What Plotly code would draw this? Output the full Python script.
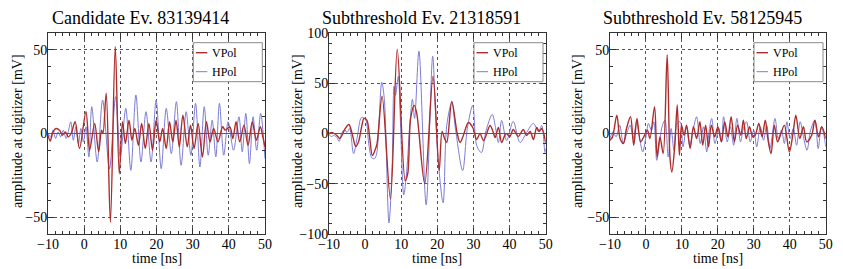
import plotly.graph_objects as go

# ---------------- data ----------------
titles = ["Candidate Ev. 83139414", "Subthreshold Ev. 21318591", "Subthreshold Ev. 58125945"]
legend_names = ["VPol", "HPol"]
x_label = "time [ns]"
y_label = "amplitude at digitizer [mV]"
x_ticks = [-10, 0, 10, 20, 30, 40, 50]
y_ticks_small = [-50, 0, 50]
y_ticks_big = [-100, -50, 0, 50, 100]

# (time [ns], amplitude [mV]) turning points of each waveform
vpol_1 = [(-10, -1), (-9.4, -4.5), (-8.6, 1), (-7.8, 3), (-6.8, 2), (-6.0, -1), (-5.2, 1), (-4.4, -2),
          (-3.6, 0), (-2.5, 7), (-1.3, -9), (0.5, 13), (1.5, -10), (2.9, 6), (4.0, -11), (4.8, 2),
          (5.2, 0), (6.1, 24), (7.25, -53), (8.6, 52), (9.7, -24), (10.6, 7), (11.4, -6), (12.4, 8),
          (13.2, -4), (14.0, 3), (15.0, -7), (15.9, 6), (16.9, -9), (17.9, 6), (18.9, -10), (19.9, 8),
          (20.9, -5), (21.7, 3), (22.7, -9), (23.6, 7), (24.5, -5), (25.4, 8), (26.3, -8), (27.3, 11),
          (28.5, -8), (29.4, 5), (30.4, -9), (31.5, 6), (32.7, -14), (33.8, 7), (34.8, -5), (35.8, 3),
          (37.0, -5), (38.3, 4), (39.0, 2), (40.3, 4), (41.1, -3), (42.0, 7), (43.0, -5), (44.2, 5),
          (45.3, -7), (46.5, 7), (47.6, -4), (48.7, 4), (49.4, -2), (50.0, -8)]
hpol_1 = [(-10, 0), (-9.3, -2), (-8.6, 2), (-7.9, -3), (-7.2, 1), (-6.5, -2), (-5.8, 2), (-5.0, -3),
          (-4.3, 2), (-3.7, 7), (-3.0, -4), (-2.3, 4), (-1.6, -6), (-0.9, 3), (-0.2, -5), (0.5, 4),
          (1.3, -14), (2.1, 16), (3.6, -17), (5.1, 20), (7.0, -21), (8.7, 22), (10.0, -14), (11.5, 15),
          (12.9, -22), (14.3, 23), (15.7, -17), (17.1, 13), (18.5, -17), (19.9, 20), (21.3, -21),
          (22.7, 15), (24.1, -12), (25.5, 19), (26.8, -19), (28.2, 13), (29.5, -13), (30.8, 18),
          (32.0, -20), (33.2, 16), (34.3, -13), (35.4, 8), (36.4, -14), (37.4, 18), (38.6, -13),
          (39.8, 7), (41.3, -10), (42.8, 10), (43.7, -11), (44.7, 12), (45.7, -18), (46.7, 10),
          (47.7, -10), (48.8, 12), (50.0, -15)]

vpol_2 = [(-10, 0), (-9.3, 1), (-8.6, 0), (-7.8, -2), (-7.0, -5), (-6.3, -1), (-5.5, 5), (-4.5, 9),
          (-3.6, 0), (-2.6, -13), (-1.8, -8), (-1.0, 6), (-0.3, 15), (0.5, 13), (1.3, -5), (2.0, -22),
          (2.7, -17), (3.3, -10), (4.7, 37), (7.0, -65), (8.9, 84), (11.1, -47), (11.8, -40), (12.6, 15),
          (13.6, 28), (14.3, 20), (16.5, -50), (18.8, 57), (20.5, -37), (21.3, 2), (22.0, -5), (22.6, -9),
          (24.0, 32), (25.5, 0), (26.3, -9), (27.1, -3), (28.6, 11), (29.8, 6), (30.9, -6), (31.8, 0),
          (32.8, -7), (34.6, 8), (35.4, 2), (36.0, -4), (36.9, 6), (37.8, -9), (39.0, 0), (40.1, -3),
          (41.0, 4), (42.4, -3), (43.8, 4), (44.7, -2), (45.7, 2), (46.6, -6), (47.5, 6), (48.2, 2),
          (48.9, 5), (50.0, -9)]
hpol_2 = [(-10, -1), (-9.3, -3), (-8.7, -2), (-7.8, -4), (-7.2, -8), (-6.5, 0), (-5.7, 4), (-5.0, 1),
          (-4.3, 5), (-3.2, -20), (-2.2, -4), (-1.0, 16), (0.1, 14), (1.0, -10), (1.8, -24), (2.6, -25),
          (3.2, -20), (4.6, 51), (5.3, 35), (6.6, -89), (7.5, -30), (8.0, 47), (8.4, 38), (9.2, 57),
          (9.7, 20), (10.7, -61), (11.5, -38), (12.4, 10), (13.1, 34), (13.7, 15), (14.9, 82),
          (16.9, -71), (18.7, 77), (19.5, 20), (20.3, -30), (21.6, -69), (22.6, 8), (24.0, 31),
          (25.0, 5), (27.0, -37), (28.3, 5), (29.8, 28), (30.9, -12), (32.2, -19), (33.5, 3), (35.2, 19),
          (36.0, 8), (36.9, -9), (37.8, 13), (39.2, -7), (41.0, 12), (42.9, -9), (44.7, 1), (46.6, 10),
          (48.0, 2), (48.9, 8), (49.8, -19), (50.0, -15)]

vpol_3 = [(-10, -4), (-9.3, -2), (-8.1, 11), (-7.2, -3), (-6.3, -6), (-5.4, 3), (-4.3, 10), (-3.4, -7),
          (-2.5, 9), (-1.5, -5), (-0.6, -2), (0.4, 2), (1.1, -3), (2.4, 16), (3.1, -14), (3.9, -2),
          (4.8, -12), (5.9, 47), (6.7, -15), (7.2, -23), (8.0, -8), (8.7, 17), (9.3, -13), (9.9, 5),
          (10.6, -1), (11.3, 5), (12.3, -9), (13.2, 4), (14.1, -3), (15.0, 7), (15.8, -7), (16.6, 5),
          (17.4, -8), (18.2, 5), (19.1, -2), (20.0, 4), (21.0, -5), (21.9, 7), (22.8, -2), (23.7, 10),
          (24.6, -5), (25.5, 5), (26.4, -1), (27.1, 8), (27.9, -3), (28.8, 4), (29.7, -2), (30.4, -1),
          (31.4, 6), (32.3, -2), (33.2, 8), (33.9, -3), (34.8, -12), (35.7, 5), (36.6, -5), (37.4, -1),
          (38.5, 5), (39.9, -11), (40.9, 0), (41.7, 11), (42.8, -3), (43.8, 4), (44.7, -5), (46.1, -1),
          (47.0, 8), (48.0, -2), (48.9, 4), (50.0, -3)]
hpol_3 = [(-10, -3), (-9.2, 1), (-8.3, -2), (-7.3, 5), (-6.3, -6), (-5.2, 1), (-4.4, 5), (-3.5, -3),
          (-2.6, 7), (-1.8, -2), (-0.9, -11), (0.0, -2), (0.7, 6), (1.5, 2), (2.2, 7), (3.0, -16),
          (3.9, -3), (4.6, 5), (5.3, 8), (6.2, -14), (7.0, 3), (7.8, -10), (8.6, 6), (9.5, 7),
          (10.3, -8), (11.3, 4), (12.2, -7), (13.2, 3), (14.1, 10), (15.1, -6), (16.0, 4), (16.9, -11),
          (17.6, 2), (18.3, 9), (19.2, -6), (20.3, 3), (21.0, -5), (21.6, 10), (22.6, -5), (23.5, 4),
          (24.4, -7), (25.3, 9), (26.3, -5), (27.1, 3), (28.0, 7), (29.0, -5), (30.0, 2), (30.8, -8),
          (31.8, 4), (32.7, -4), (33.6, 5), (34.5, -9), (35.9, 9), (36.8, -3), (37.7, 2), (38.5, -6),
          (39.2, 7), (40.1, -3), (41.0, 3), (41.9, -7), (42.9, 7), (43.9, -3), (44.8, -10), (45.8, 2),
          (47.0, 8), (47.9, -9), (48.8, 4), (49.6, -2), (50.0, -8)]

x_range = [-10, 50]
y_ranges = [[-60, 60], [-100, 100], [-60, 60]]
panels = [(vpol_1, hpol_1), (vpol_2, hpol_2), (vpol_3, hpol_3)]

# ---------------- styling / layout ----------------
# the page body keeps an 8 px margin, so the figure is made 8 px smaller
# and every position below (given in window pixels) is shifted by it
OFF = 8
W, H = 843 - OFF, 269 - OFF
FONT = "Liberation Serif"
RED = "#ad2c2c"
BLUE = "#7c7cd6"
ZERO_BLUE = "#4c4cc8"
FRAME = "#333333"

plot_left = [48, 329, 610]
plot_right = [265, 545.7, 825.7]
plot_top, plot_bottom = 33, 234
title_cx = [140, 421.5, 702.5]
ytitle_cx = [17, 297, 577]

def px_x(p):
    return (p - OFF) / W

def px_y(p):
    return 1 - (p - OFF) / H

fig = go.Figure()
layout = dict(
    template="none",
    width=W, height=H, margin=dict(l=0, r=0, t=0, b=0, autoexpand=False),
    paper_bgcolor="white", plot_bgcolor="white", showlegend=False,
    font=dict(family=FONT, size=14, color="black"),
)
annotations = []
shapes = []

for i, (vp, hp) in enumerate(panels):
    n = "" if i == 0 else str(i + 1)
    xa, ya = "x" + n, "y" + n
    for data, color, width in ((hp, BLUE, 1), (vp, RED, 1.4)):
        fig.add_trace(go.Scatter(
            x=[p[0] for p in data], y=[p[1] for p in data], mode="lines",
            line=dict(color=color, width=width, shape="spline", smoothing=0.9),
            xaxis=xa, yaxis=ya, hoverinfo="skip"))
    yt = y_ticks_big if y_ranges[i][1] > 60 else y_ticks_small
    common = dict(ticks="inside", ticklen=6, tickcolor=FRAME, tickwidth=1,
                  showline=True, linecolor=FRAME, linewidth=1, mirror="allticks",
                  showgrid=True, gridcolor="#555555", griddash="dot", gridwidth=1, zeroline=False,
                  automargin=False, tickfont=dict(family=FONT, size=14, color="black"),
                  fixedrange=True)
    layout["xaxis" + n] = dict(
        domain=[px_x(plot_left[i]), px_x(plot_right[i])], anchor=ya, range=x_range,
        tickvals=x_ticks, ticklabelstandoff=-3,
        minor=dict(dtick=2, ticks="inside", ticklen=3, tickcolor=FRAME, showgrid=False),
        **common)
    layout["yaxis" + n] = dict(
        domain=[px_y(plot_bottom), px_y(plot_top)], anchor=xa, range=y_ranges[i],
        tickvals=yt, ticklabelstandoff=-3,
        minor=dict(dtick=10, ticks="inside", ticklen=3, tickcolor=FRAME, showgrid=False),
        **common)

    # zero line drawn in blue on top
    shapes.append(dict(type="line", xref=xa + " domain", yref=ya, x0=0, x1=1, y0=0, y1=0,
                       line=dict(color=ZERO_BLUE, width=1), layer="above"))

    # titles
    annotations.append(dict(text=titles[i], xref="paper", yref="paper",
                            x=px_x(title_cx[i]), y=px_y(18), xanchor="center", yanchor="middle",
                            showarrow=False, font=dict(family=FONT, size=18, color="black")))
    annotations.append(dict(text=x_label, xref="paper", yref="paper",
                            x=px_x((plot_left[i] + plot_right[i]) / 2), y=px_y(258.5),
                            xanchor="center", yanchor="middle", showarrow=False,
                            font=dict(family=FONT, size=14, color="black")))
    annotations.append(dict(text=y_label, xref="paper", yref="paper", textangle=-90,
                            x=px_x(ytitle_cx[i]), y=px_y(131), xanchor="center", yanchor="middle",
                            showarrow=False, font=dict(family=FONT, size=14, color="black")))

    # legend box (drawn by hand, like the reference)
    pw = plot_right[i] - plot_left[i]
    ph = plot_bottom - plot_top
    bx0 = plot_right[i] - 2.7 - 69
    bx1 = plot_right[i] - 2.7
    by0, by1 = 42.7, 81.7
    dx = lambda p: (p - plot_left[i]) / pw
    dy = lambda p: 1 - (p - plot_top) / ph
    shapes.append(dict(type="rect", xref=xa + " domain", yref=ya + " domain",
                       x0=dx(bx0), x1=dx(bx1), y0=dy(by1), y1=dy(by0),
                       line=dict(color="#8a8a8a", width=1), fillcolor="white", layer="above"))
    for name, color, yy, wd in ((legend_names[0], RED, 52.7, 1.4), (legend_names[1], BLUE, 71.7, 1)):
        shapes.append(dict(type="line", xref=xa + " domain", yref=ya + " domain",
                           x0=dx(bx0 + 2.5), x1=dx(bx0 + 14), y0=dy(yy), y1=dy(yy),
                           line=dict(color=color, width=wd), layer="above"))
        annotations.append(dict(text=name, xref=xa + " domain", yref=ya + " domain",
                                x=dx(bx0 + 17), y=dy(yy), xanchor="left", yanchor="middle",
                                showarrow=False, font=dict(family=FONT, size=12, color="black")))

layout["annotations"] = annotations
layout["shapes"] = shapes
fig.update_layout(**layout)
fig.write_html("out.html")
